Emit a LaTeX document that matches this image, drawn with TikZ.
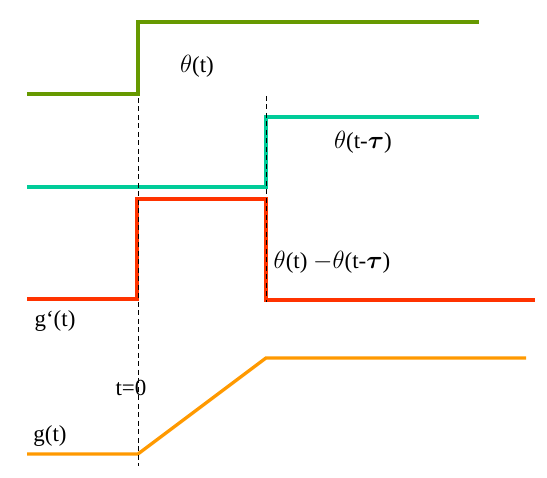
\documentclass[tikz,border=0pt]{standalone}
\usepackage{amsmath}
\usepackage{fontspec}
\setmainfont{Liberation Serif}
\usetikzlibrary{positioning}
\definecolor{stepgreen}{HTML}{669900}
\definecolor{stepteal}{HTML}{00CC99}
\definecolor{stepred}{HTML}{FF3300}
\definecolor{ramporange}{HTML}{FF9900}
\begin{document}
\begin{tikzpicture}[x=1pt, y=-1pt,
                    signal/.style={line width=3.3pt},
                    marker/.style={draw, black, dashed, dash pattern=on 5pt off 3.5pt, line width=0.9pt},
                    label/.style={font=\fontsize{23}{27}\selectfont, inner sep=0pt}
                ]
                    \useasboundingbox (0,0) rectangle (547,478);
                    % Place key points
                    \coordinate (t0top) at (138,98);
                    \coordinate (t0bot) at (138,466);
                    \coordinate (tautop) at (266,96);
                    \coordinate (taubot) at (266,302);

                    % Draw signals
                    \draw [signal, stepgreen] (27,94) -- (138,94) -- (138,22) -- (479,22);
                    \draw [signal, stepteal] (27,187) -- (266,187) -- (266,117) -- (479,117);
                    \draw [signal, stepred] (27,299) -- (137,299) -- (137,199) -- (266,199) -- (266,300) -- (535,300);
                    \draw [signal, ramporange] (27,454) -- (138,454) -- (266,358) -- (526,358);

                    % Draw markers
                    \path [marker] (t0top) -- (t0bot);
                    \path [marker] (tautop) -- (taubot);

                    % Place labels
                    \node [label] (theta) at (197,66) {$\theta$(t)};
                    \node [label] (thetatau) at (363,142) {$\theta$(t-$\boldsymbol{\tau}$)};
                    \node [label] (diff) at (332,262) {$\theta$(t) $-\theta$(t-$\boldsymbol{\tau}$)};
                    \node [label] (gprime) at (55,321) {g‘(t)};
                    \node [label] (tzero) at (131,388) {t=0};
                    \node [label] (g) at (50,436) {g(t)};
            \end{tikzpicture}
\end{document}
